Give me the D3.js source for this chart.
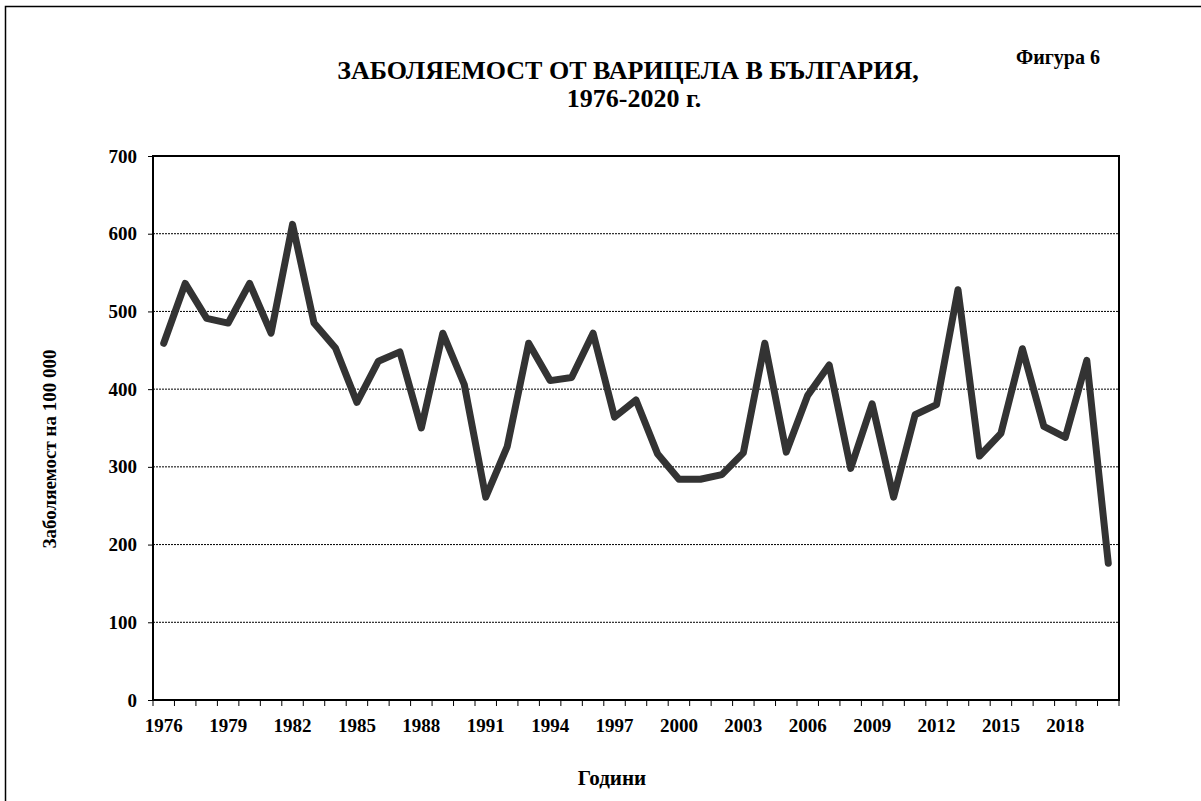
<!DOCTYPE html>
<html>
<head>
<meta charset="utf-8">
<script src="https://cdn.jsdelivr.net/npm/d3@7"></script>
<style>
  body { margin: 0; background: #fff; }
</style>
</head>
<body>
<div id="chart"></div>
<script>
// incidence of chickenpox per 100 000
var years = d3.range(1976, 2021);
var rates = [459, 536, 491, 485, 536, 472, 612, 485, 453, 383,
             436, 448, 350, 472, 406, 261, 326, 459, 411, 415,
             472, 364, 386, 317, 284, 284, 290, 318, 459, 319,
             392, 431, 298, 381, 261, 367, 380, 528, 314, 343,
             452, 352, 338, 437, 176];
var yTicks = [0, 100, 200, 300, 400, 500, 600, 700];
var xLabels = years.filter(function (y, i) { return i % 3 === 0 && y < 2020; });

var W = 1201, H = 801;
var m = { left: 153, right: 1119, top: 156, bottom: 700 };
var serif = '"Liberation Serif", "Times New Roman", Times, serif';

var svg = d3.select('#chart').append('svg')
    .attr('width', W).attr('height', H)
    .attr('font-family', serif).attr('font-weight', 'bold');

// outer frame (runs off the right and bottom edges)
svg.append('rect')
    .attr('x', 5.5).attr('y', 6.5)
    .attr('width', 1210).attr('height', 820)
    .attr('fill', 'none').attr('stroke', '#000').attr('stroke-width', 1.5);

var x = d3.scaleBand().domain(years).range([m.left, m.right]);
var y = d3.scaleLinear().domain([0, 700]).range([m.bottom, m.top]);

// gridlines
svg.append('g').selectAll('line')
    .data(yTicks.filter(function (d) { return d > 0 && d < 700; }))
    .enter().append('line')
    .attr('x1', m.left).attr('x2', m.right)
    .attr('y1', function (d) { return y(d); })
    .attr('y2', function (d) { return y(d); })
    .attr('stroke', '#000').attr('stroke-width', 1)
    .attr('stroke-dasharray', '2,1');

// plot frame
svg.append('rect')
    .attr('x', m.left).attr('y', m.top)
    .attr('width', m.right - m.left).attr('height', m.bottom - m.top)
    .attr('fill', 'none').attr('stroke', '#000').attr('stroke-width', 2);

// y axis
var yAxis = svg.append('g')
    .attr('transform', 'translate(' + m.left + ',0)')
    .call(d3.axisLeft(y).tickValues(yTicks).tickSize(5).tickPadding(11));
yAxis.attr('font-family', serif);
yAxis.select('.domain').remove();
yAxis.selectAll('text').attr('font-size', 19).attr('fill', '#000');

// x axis: ticks between categories, labels every third year
var bounds = years.map(function (d) { return x(d); }).concat([m.right]);
var xg = svg.append('g');
xg.append('line')
    .attr('x1', m.left).attr('x2', m.right)
    .attr('y1', m.bottom).attr('y2', m.bottom)
    .attr('stroke', '#000').attr('stroke-width', 2);
xg.selectAll('line.tick').data(bounds).enter().append('line')
    .attr('class', 'tick')
    .attr('x1', function (d) { return d; }).attr('x2', function (d) { return d; })
    .attr('y1', m.bottom).attr('y2', m.bottom + 6)
    .attr('stroke', '#000').attr('stroke-width', 1);
xg.selectAll('text').data(xLabels).enter().append('text')
    .attr('x', function (d) { return x(d) + x.bandwidth() / 2; })
    .attr('y', m.bottom + 32)
    .attr('text-anchor', 'middle')
    .attr('font-size', 19)
    .text(function (d) { return d; });

// the series
var line = d3.line()
    .x(function (d, i) { return x(years[i]) + x.bandwidth() / 2; })
    .y(function (d) { return y(d); });

svg.append('path')
    .datum(rates)
    .attr('d', line)
    .attr('fill', 'none')
    .attr('stroke', '#333')
    .attr('stroke-width', 7)
    .attr('stroke-linejoin', 'round')
    .attr('stroke-linecap', 'round');

// titles
svg.append('text').attr('x', 628).attr('y', 79).attr('text-anchor', 'middle')
    .attr('font-size', 26).text('ЗАБОЛЯЕМОСТ ОТ ВАРИЦЕЛА В БЪЛГАРИЯ,');
svg.append('text').attr('x', 634).attr('y', 107).attr('text-anchor', 'middle')
    .attr('font-size', 26).text('1976-2020 г.');
svg.append('text').attr('x', 1058).attr('y', 64).attr('text-anchor', 'middle')
    .attr('font-size', 20).text('Фигура 6');

svg.append('text')
    .attr('transform', 'translate(56,' + ((m.top + m.bottom) / 2 + 21) + ') rotate(-90)')
    .attr('text-anchor', 'middle').attr('font-size', 19)
    .text('Заболяемост на 100 000');
svg.append('text').attr('x', 612).attr('y', 785).attr('text-anchor', 'middle')
    .attr('font-size', 21).text('Години');
</script>
</body>
</html>
